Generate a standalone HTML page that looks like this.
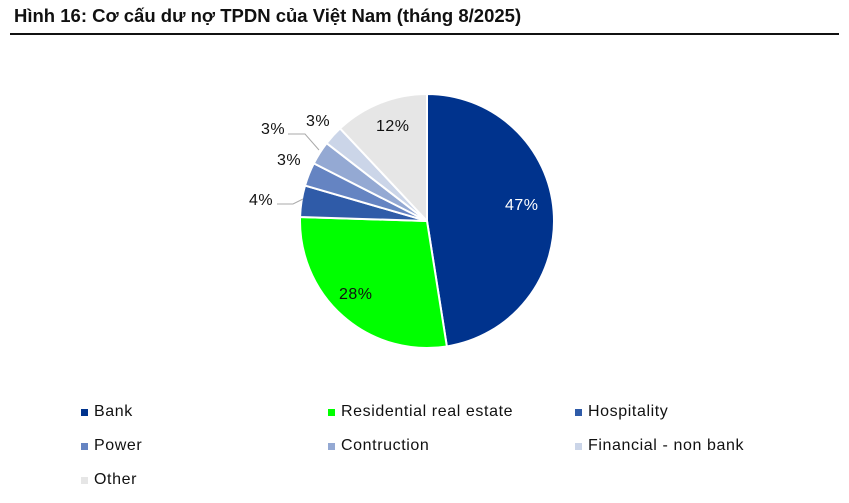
<!DOCTYPE html>
<html><head><meta charset="utf-8"><style>
body{margin:0;width:849px;height:503px;background:#fff;overflow:hidden;font-family:"Liberation Sans","Noto Sans CJK SC",sans-serif;position:relative}
.t{position:absolute;left:14px;top:5px;font-size:18.5px;font-weight:bold;color:#111}
.line{position:absolute;left:10px;top:33px;width:829px;height:2px;background:#111}
.lg{position:absolute;font-size:16px;letter-spacing:0.6px;color:#111}
.lg i{position:absolute;left:-13px;top:6px;width:7px;height:7px}
</style></head><body>
<div class="t">Hình 16: Cơ cấu dư nợ TPDN của Việt Nam (tháng 8/2025)</div>
<div class="line"></div>
<svg id="s" width="849" height="503" style="position:absolute;left:0;top:0" font-family="Liberation Sans, sans-serif" font-size="16" letter-spacing="0.5">
<g id="p"></g>
<polyline points="288,134 305,134 319,150" fill="none" stroke="#aaa" stroke-width="1"/>
<polyline points="277,204 293,204 303,199" fill="none" stroke="#aaa" stroke-width="1"/>
<text x="505" y="210" fill="#fff">47%</text>
<text x="339" y="299" fill="#111">28%</text>
<text x="376" y="131" fill="#111">12%</text>
<text x="306" y="126" fill="#111">3%</text>
<text x="261" y="134" fill="#111">3%</text>
<text x="277" y="165" fill="#111">3%</text>
<text x="249" y="205" fill="#111">4%</text>
</svg>
<div class="lg" style="left:94px;top:403px"><i style="background:#00338d"></i>Bank</div>
<div class="lg" style="left:341px;top:403px"><i style="background:#00ff00"></i>Residential real estate</div>
<div class="lg" style="left:588px;top:403px"><i style="background:#2f5ba8"></i>Hospitality</div>
<div class="lg" style="left:94px;top:437px"><i style="background:#6584c2"></i>Power</div>
<div class="lg" style="left:341px;top:437px"><i style="background:#94a9d3"></i>Contruction</div>
<div class="lg" style="left:588px;top:437px"><i style="background:#cbd5e8"></i>Financial - non bank</div>
<div class="lg" style="left:94px;top:471px"><i style="background:#e6e6e6"></i>Other</div>
<script>
var d=[[.475,"#00338d"],[.28,"#00ff00"],[.04,"#2f5ba8"],[.03,"#6584c2"],[.03,"#94a9d3"],[.025,"#cbd5e8"],[.12,"#e6e6e6"]];
var cx=427,cy=221,r=127,a=0,h="";
d.forEach(function(x){var b=a+x[0]*2*Math.PI;
var x1=cx+r*Math.sin(a),y1=cy-r*Math.cos(a),x2=cx+r*Math.sin(b),y2=cy-r*Math.cos(b);
h+='<path d="M'+cx+','+cy+'L'+x1+','+y1+'A'+r+','+r+' 0 '+(b-a>Math.PI?1:0)+' 1 '+x2+','+y2+'Z" fill="'+x[1]+'" stroke="#fff" stroke-width="2"/>';a=b;});
document.getElementById("p").innerHTML=h;
</script>
</body></html>
